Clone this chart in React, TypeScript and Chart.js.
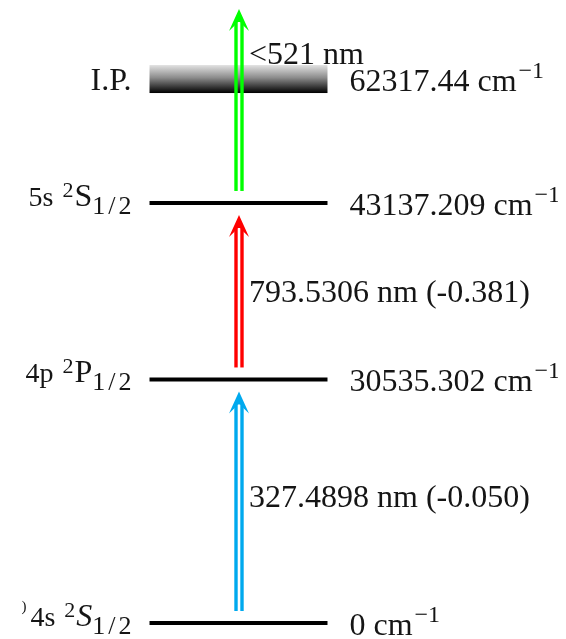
import { useEffect, useRef } from "react";
import { Chart, registerables } from "chart.js";

Chart.register(...registerables);

// Energy levels: term labels, energies (cm^-1) and schematic heights on the diagram
const levelTerms = ["4s 2S1/2", "4p 2P1/2", "5s 2S1/2", "I.P."];
const levelEnergyLabels = ["0", "30535.302", "43137.209", "62317.44"];
const levelHeights = [0, 3.96, 6.83, 8.845];
const ionizationBandHalfWidth = 0.2276;
const continuumHeight = 10.18;

// Laser transitions between levels (index 4 = continuum above I.P.)
const transitionFrom = [0, 1, 2];
const transitionTo = [1, 2, 4];
const transitionLabels = ["327.4898 nm (-0.050)", "793.5306 nm (-0.381)", "<521 nm"];
const transitionColors = ["#00a9ee", "#ff0000", "#00ff00"];

const FONT = '"Liberation Serif", "Times New Roman", serif';
const LEVEL_X0 = 2.573;
const LEVEL_X1 = 5.809;
const ARROW_X = 4.2;

type Seg = { t: string; size: number; dy?: number; italic?: boolean; gap?: number; ls?: number };

function term(config: string, letter: string, italic = false, prefix?: Seg): Seg[] {
  const segs: Seg[] = [
    { t: config, size: 28, gap: 9 },
    { t: "2", size: 22, dy: -9, gap: 1 },
    { t: letter, size: 32, italic, gap: 0 },
    { t: "1/2", size: 26, dy: 8, ls: 3 },
  ];
  return prefix ? [prefix, ...segs] : segs;
}

// Rich text pieces for the term symbols on the left
const termSegments: Seg[][] = [
  term("4s", "S", true, { t: ")", size: 15, dy: -15, gap: 4 }),
  term("4p", "P"),
  term("5s", "S"),
  [{ t: "I.P.", size: 32 }],
];

function segFont(s: Seg) {
  return `${s.italic ? "italic " : ""}${s.size}px ${FONT}`;
}

function drawRich(ctx: CanvasRenderingContext2D, segs: Seg[], x: number, baseline: number, align: "left" | "right") {
  const widths = segs.map((s) => {
    ctx.font = segFont(s);
    (ctx as any).letterSpacing = `${s.ls ?? 0}px`;
    return ctx.measureText(s.t).width - (s.ls ?? 0);
  });
  const total = widths.reduce((a, w, i) => a + w + (i < segs.length - 1 ? segs[i].gap ?? 0 : 0), 0);
  let cx = align === "right" ? x - total : x;
  ctx.textAlign = "left";
  ctx.textBaseline = "alphabetic";
  segs.forEach((s, i) => {
    ctx.font = segFont(s);
    (ctx as any).letterSpacing = `${s.ls ?? 0}px`;
    ctx.fillText(s.t, cx, baseline + (s.dy ?? 0));
    cx += widths[i] + (s.gap ?? 0);
  });
  (ctx as any).letterSpacing = "0px";
}

const diagramPlugin = {
  id: "energyDiagram",
  beforeDatasetsDraw(chart: Chart) {
    const { ctx } = chart;
    const xs = chart.scales.x;
    const ys = chart.scales.y;
    // ionization limit drawn as a shaded band
    const ip = levelHeights[3];
    const x0 = xs.getPixelForValue(LEVEL_X0);
    const x1 = xs.getPixelForValue(LEVEL_X1);
    const yT = ys.getPixelForValue(ip + ionizationBandHalfWidth);
    const yB = ys.getPixelForValue(ip - ionizationBandHalfWidth);
    const g = ctx.createLinearGradient(0, yT, 0, yB);
    g.addColorStop(0, "#e2e2e2");
    g.addColorStop(0.45, "#8c8c8c");
    g.addColorStop(1, "#000000");
    ctx.save();
    ctx.fillStyle = g;
    ctx.fillRect(x0, yT, x1 - x0, yB - yT);
    ctx.restore();
  },
  afterDatasetsDraw(chart: Chart) {
    const { ctx } = chart;
    const xs = chart.scales.x;
    const ys = chart.scales.y;
    const cx = xs.getPixelForValue(ARROW_X);
    const gapPx = 12;
    const labelFractions = [0.47, 0.42, 0.7];
    const labelOffset = [-1, -1, 0];

    ctx.save();
    transitionFrom.forEach((from, i) => {
      const to = transitionTo[i];
      const upper = to < levelHeights.length ? levelHeights[to] : continuumHeight;
      const yBot = ys.getPixelForValue(levelHeights[from]) - gapPx;
      const yTop = ys.getPixelForValue(upper) + gapPx;
      const col = transitionColors[i];

      // double shaft
      ctx.strokeStyle = col;
      ctx.lineWidth = 3.4;
      ctx.lineCap = "butt";
      [-3, 3].forEach((dx) => {
        ctx.beginPath();
        ctx.moveTo(cx + dx, yBot);
        ctx.lineTo(cx + dx, yTop + 12);
        ctx.stroke();
      });

      // head
      ctx.fillStyle = col;
      ctx.beginPath();
      ctx.moveTo(cx, yTop);
      ctx.lineTo(cx + 10, yTop + 22);
      ctx.lineTo(cx + 4.8, yTop + 17);
      ctx.lineTo(cx + 1.2, yTop + 13);
      ctx.lineTo(cx - 1.2, yTop + 13);
      ctx.lineTo(cx - 4.8, yTop + 17);
      ctx.lineTo(cx - 10, yTop + 22);
      ctx.closePath();
      ctx.fill();

      // wavelength label
      ctx.fillStyle = "#151515";
      ctx.font = `32px ${FONT}`;
      ctx.textAlign = "left";
      ctx.textBaseline = "alphabetic";
      const yl = yBot - (yBot - yTop) * labelFractions[i] + labelOffset[i];
      ctx.fillText(transitionLabels[i], cx + 10, yl);
    });

    // level labels
    ctx.fillStyle = "#151515";
    levelHeights.forEach((h, i) => {
      const y = ys.getPixelForValue(h);
      const isIP = i === levelHeights.length - 1;
      drawRich(ctx, termSegments[i], xs.getPixelForValue(LEVEL_X0) - 18, y + (isIP ? 11 : 3), "right");
      drawRich(
        ctx,
        [
          { t: `${levelEnergyLabels[i]} cm`, size: 32, gap: 2 },
          { t: "\u22121", size: 24, dy: -13 },
        ],
        xs.getPixelForValue(LEVEL_X1) + 22,
        y + 12,
        "left"
      );
    });
    ctx.restore();
  },
};

export default function App() {
  const ref = useRef<HTMLCanvasElement | null>(null);

  useEffect(() => {
    if (!ref.current) return;
    // bound states drawn as horizontal lines; the I.P. band is drawn by the plugin
    const datasets = levelHeights.slice(0, 3).map((h, i) => ({
      label: levelTerms[i],
      data: [
        { x: LEVEL_X0, y: h },
        { x: LEVEL_X1, y: h },
      ],
      showLine: true,
      borderColor: "#000",
      borderWidth: 4,
      pointRadius: 0,
      borderCapStyle: "butt" as const,
    }));
    const chart = new Chart(ref.current, {
      type: "scatter",
      data: { datasets },
      options: {
        animation: false,
        responsive: true,
        maintainAspectRatio: false,
        layout: { padding: 0 },
        plugins: { legend: { display: false }, tooltip: { enabled: false } },
        scales: {
          x: { type: "linear", min: 0, max: 10, display: false },
          y: { type: "linear", min: -0.26, max: 10, display: false },
        },
        events: [],
      },
      plugins: [diagramPlugin],
    });
    return () => chart.destroy();
  }, []);

  return (
    <div style={{ position: "relative", width: 550, height: 631 }}>
      <canvas ref={ref} />
    </div>
  );
}
